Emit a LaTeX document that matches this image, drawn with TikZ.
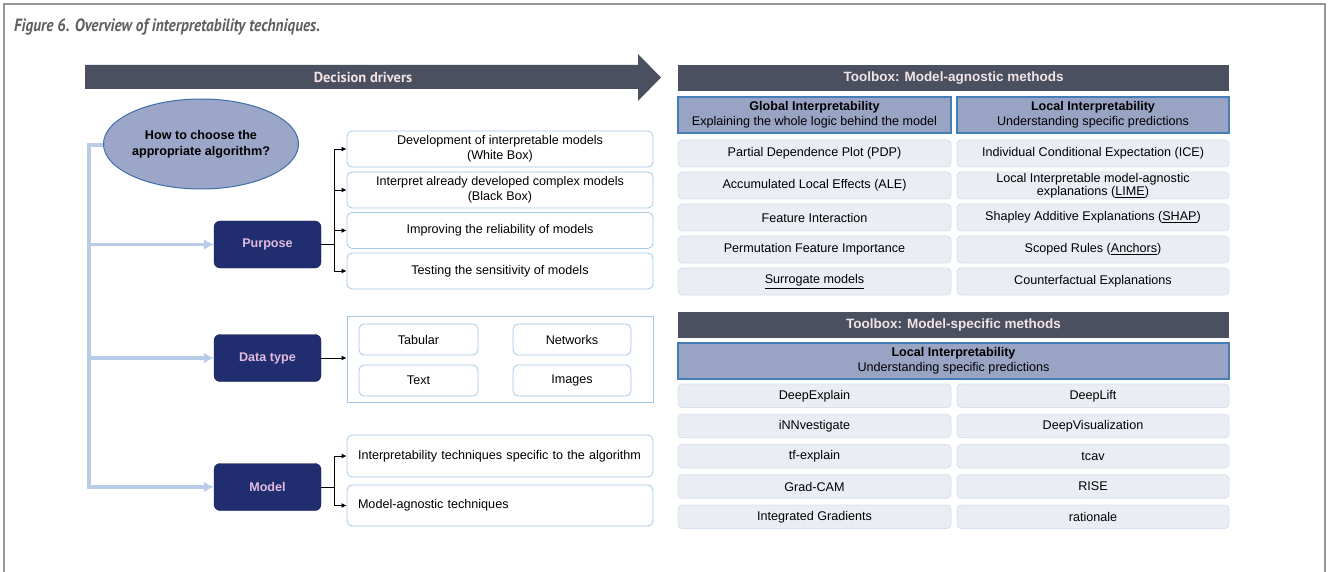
\documentclass[tikz,border=0pt]{standalone}
\usepackage{fontspec}
\setmainfont{Liberation Sans}
\newfontfamily\titlefont[FakeStretch=0.86]{PT Sans}
\newfontfamily\ddfont{PT Sans}
\usetikzlibrary{shapes.geometric,arrows.meta}
\definecolor{slate}{RGB}{74,80,96}
\definecolor{slatetext}{RGB}{242,228,230}
\definecolor{navyfill}{RGB}{32,46,112}
\definecolor{navytext}{RGB}{226,186,222}
\definecolor{ellfill}{RGB}{156,166,201}
\definecolor{ellborder}{RGB}{62,110,166}
\definecolor{boxblue}{RGB}{165,198,230}
\definecolor{lblue}{RGB}{184,204,231}
\definecolor{hdrfill}{RGB}{153,164,197}
\definecolor{hdrborder}{RGB}{68,126,184}
\definecolor{rowfill}{RGB}{234,238,244}
\definecolor{rowborder}{RGB}{214,224,238}
\definecolor{framegray}{RGB}{150,150,150}
\definecolor{titlegray}{RGB}{95,95,95}
\tikzset{
  txt/.style={font=\fontsize{12.6}{15}\selectfont},
  navynode/.style={txt,rounded corners=6pt,fill=navyfill,draw=navyfill!70!black,text=navytext,font=\fontsize{12.6}{15}\selectfont\bfseries,minimum width=107pt,minimum height=47pt,inner sep=0pt},
  wbox/.style={txt,draw=boxblue,line width=0.8pt,rounded corners=5pt,fill=white,align=center,minimum width=306pt,inner sep=0pt},
  sbox/.style={txt,draw=boxblue,line width=0.8pt,rounded corners=5pt,fill=white,align=center,minimum height=31pt,inner sep=0pt},
  lbox/.style={txt,draw=boxblue,line width=0.8pt,rounded corners=5pt,fill=white,align=left,text width=284pt,inner xsep=11pt,inner ysep=0pt},
  container/.style={draw=boxblue,line width=0.8pt,minimum width=306pt,minimum height=86pt,inner sep=0pt},
  tbx/.style={fill=slate,text=slatetext,font=\fontsize{13.5}{16}\selectfont\bfseries,minimum width=551pt,minimum height=26pt,inner sep=0pt},
  hdr/.style={txt,fill=hdrfill,draw=hdrborder,line width=1.1pt,align=center,minimum height=36pt,inner sep=0pt},
  row/.style={txt,fill=rowfill,draw=rowborder,line width=0.8pt,rounded corners=4pt,align=center,inner sep=0pt},
  rowA/.style={row,minimum height=27pt},
  rowB/.style={row,minimum height=23.5pt},
  lb/.style={draw=lblue,line width=3.2pt},
  lbarrow/.style={lb,-{Latex[length=10pt,width=11pt]}},
  blk/.style={draw=black,line width=0.9pt},
  blkarrow/.style={blk,-{Latex[length=5pt,width=5pt]}}
}
\begin{document}
\begin{tikzpicture}[x=1pt,y=-1pt]
\useasboundingbox (0,0) rectangle (1328,572);
% frame
\draw[framegray,line width=1.4pt] (4,572) -- (4,4) -- (1325,4) -- (1325,572);
% title
\node[anchor=west,inner sep=0pt,text=titlegray,font=\titlefont\fontsize{17.8}{19}\selectfont\bfseries\itshape] (title) at (14,27) {Figure 6. Overview of interpretability techniques.};
% decision drivers arrow
\fill[slate] (85,65) -- (638,65) -- (638,54) -- (661,77.5) -- (638,101) -- (638,89) -- (85,89) -- cycle;
\node[text=slatetext,font=\ddfont\fontsize{14.5}{16}\selectfont\bfseries] (dd) at (363,77) {Decision drivers};
% question ellipse
\node[ellipse,fill=ellfill,draw=ellborder,line width=1pt,minimum width=180pt,minimum height=90pt,align=center,font=\fontsize{12.6}{16}\selectfont\bfseries,inner sep=0pt] (q) at (201,144) {How to choose the\\appropriate algorithm?};
% navy nodes
\node[navynode] (purpose) at (267.5,244.5) {Purpose};
\node[navynode] (dtype) at (267.5,358) {Data type};
\node[navynode] (model) at (267.5,487) {Model};
% light blue tree
\coordinate (t0) at (89,145);
\draw[lbarrow] (q.west |- t0) -- (t0) |- (model.west);
\draw[lbarrow] (t0 |- purpose.west) -- (purpose.west);
\draw[lbarrow] (t0 |- dtype.west) -- (dtype.west);
% purpose boxes
\node[wbox,minimum height=36pt] (p1) at (500,149) {Development of interpretable models\\(White Box)};
\node[wbox,minimum height=36pt] (p2) at (500,190) {Interpret already developed complex models\\(Black Box)};
\node[wbox,minimum height=36pt] (p3) at (500,230.5) {Improving the reliability of models};
\node[wbox,minimum height=36pt] (p4) at (500,271) {Testing the sensitivity of models};
\coordinate (pb) at (334,244.5);
\draw[blk] (purpose.east) -- (pb);
\draw[blkarrow] (pb) |- (p1.west);
\draw[blkarrow] (pb) |- (p2.west);
\draw[blkarrow] (pb) |- (p3.west);
\draw[blkarrow] (pb) |- (p4.west);
% data type container
\node[container] (dc) at (500,359) {};
\node[sbox,minimum width=119pt] (tab) at (418.5,339.5) {Tabular};
\node[sbox,minimum width=118pt] (net) at (572,339.5) {Networks};
\node[sbox,minimum width=119pt] (txt) at (418.5,380.5) {Text};
\node[sbox,minimum width=118pt] (img) at (572,380.5) {Images};
\draw[blkarrow] (dtype.east) -- (dtype.east -| dc.west);
% model boxes
\node[lbox,minimum height=42pt] (m1) at (500,456) {Interpretability techniques specific to the algorithm};
\node[lbox,minimum height=41pt] (m2) at (500,505.5) {Model-agnostic techniques};
\coordinate (mb) at (334,487);
\draw[blk] (model.east) -- (mb);
\draw[blkarrow] (mb) |- (m1.west);
\draw[blkarrow] (mb) |- (m2.west);
% toolbox 1
\node[tbx] (tb1) at (953.5,78) {Toolbox: Model-agnostic methods};
\node[hdr,minimum width=273pt] (gh) at (814.5,115) {\textbf{Global Interpretability}\\Explaining the whole logic behind the model};
\node[hdr,minimum width=272pt] (lh) at (1093,115) {\textbf{Local Interpretability}\\Understanding specific predictions};
\node[rowA,minimum width=273pt] (a1) at (814.5,153.5) {Partial Dependence Plot (PDP)};
\node[rowA,minimum width=273pt] (a2) at (814.5,185.5) {Accumulated Local Effects (ALE)};
\node[rowA,minimum width=273pt] (a3) at (814.5,217.5) {Feature Interaction};
\node[rowA,minimum width=273pt] (a4) at (814.5,249.5) {Permutation Feature Importance};
\node[rowA,minimum width=273pt] (a5) at (814.5,281.5) {\underline{Surrogate models}};
\node[rowA,minimum width=272pt] (b1) at (1093,153.5) {Individual Conditional Expectation (ICE)};
\node[rowA,minimum width=272pt,font=\fontsize{12.6}{13.5}\selectfont] (b2) at (1093,185.5) {Local Interpretable model-agnostic\\explanations (\underline{LIME})};
\node[rowA,minimum width=272pt] (b3) at (1093,217.5) {Shapley Additive Explanations (\underline{SHAP})};
\node[rowA,minimum width=272pt] (b4) at (1093,249.5) {Scoped Rules (\underline{Anchors})};
\node[rowA,minimum width=272pt] (b5) at (1093,281.5) {Counterfactual Explanations};
% toolbox 2
\node[tbx] (tb2) at (953.5,325) {Toolbox: Model-specific methods};
\node[hdr,minimum width=551pt] (lh2) at (953.5,361) {\textbf{Local Interpretability}\\Understanding specific predictions};
\node[rowB,minimum width=273pt] (c1) at (814.5,395.75) {DeepExplain};
\node[rowB,minimum width=273pt] (c2) at (814.5,426) {iNNvestigate};
\node[rowB,minimum width=273pt] (c3) at (814.5,456.25) {tf-explain};
\node[rowB,minimum width=273pt] (c4) at (814.5,486.5) {Grad-CAM};
\node[rowB,minimum width=273pt] (c5) at (814.5,516.75) {Integrated Gradients};
\node[rowB,minimum width=272pt] (d1) at (1093,395.75) {DeepLift};
\node[rowB,minimum width=272pt] (d2) at (1093,426) {DeepVisualization};
\node[rowB,minimum width=272pt] (d3) at (1093,456.25) {tcav};
\node[rowB,minimum width=272pt] (d4) at (1093,486.5) {RISE};
\node[rowB,minimum width=272pt] (d5) at (1093,516.75) {rationale};
\end{tikzpicture}
\end{document}
